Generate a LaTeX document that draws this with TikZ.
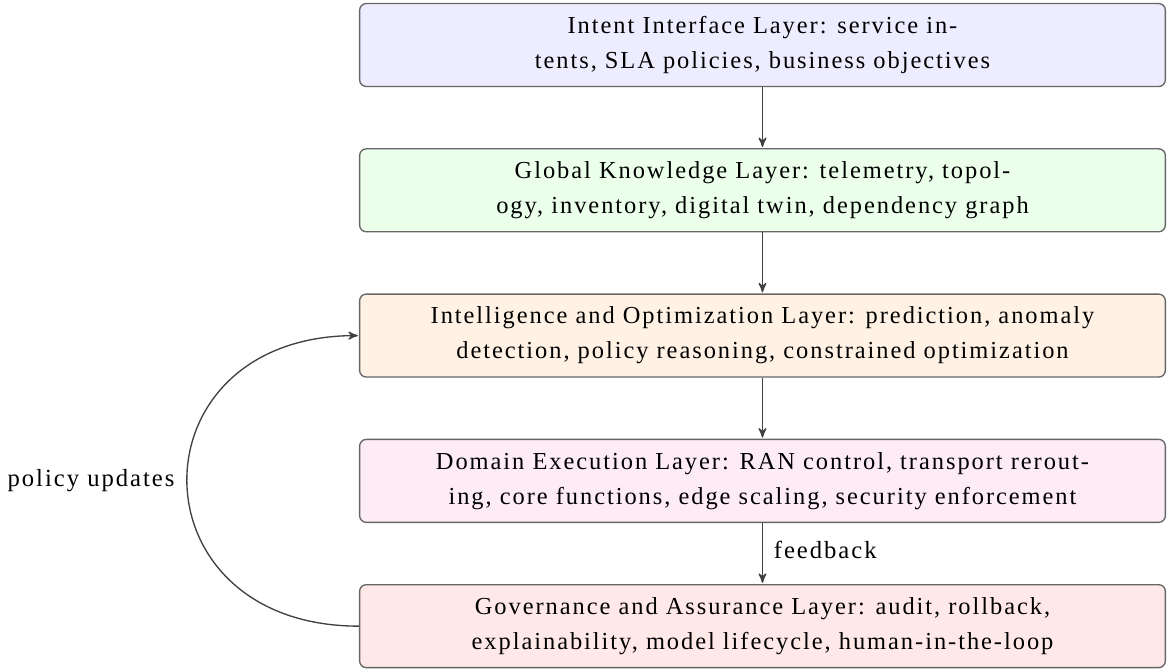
\documentclass[tikz,border=0pt]{standalone}
\usepackage{fontspec}
\setmainfont{Liberation Serif}[LetterSpace=8]
\usetikzlibrary{arrows,positioning}

\begin{document}
\begin{tikzpicture}[->,>=stealth',shorten >=0.5pt,node distance=27.45pt,
                    semithick,color=black!75]
  \tikzstyle{layer}=[draw=black!60,rounded corners=3pt,text=black,
                     minimum width=362.7pt,minimum height=37.35pt,align=center,
                     font=\fontsize{11}{15.75}\selectfont]
  \tikzstyle{lbl}=[text=black,font=\fontsize{11.1}{14}\selectfont]

  \node[layer,fill=blue!7]      (intent)                  {Intent Interface Layer: service in-\\tents, SLA policies, business objectives};
  \node[layer,fill=green!8]     (knowledge) [below=of intent]    {Global Knowledge Layer: telemetry, topol-\\ogy, inventory, digital twin, dependency graph};
  \node[layer,fill=orange!10]   (intel)     [below=of knowledge] {Intelligence and Optimization Layer: prediction, anomaly\\detection, policy reasoning, constrained optimization};
  \node[layer,fill=magenta!8]   (exec)      [below=of intel]     {Domain Execution Layer: RAN control, transport rerout-\\ing, core functions, edge scaling, security enforcement};
  \node[layer,fill=red!9]       (gov)       [below=of exec]      {Governance and Assurance Layer: audit, rollback,\\explainability, model lifecycle, human-in-the-loop};

  \useasboundingbox ([xshift=-161.6pt,yshift=1.3pt]intent.north west)
                    rectangle ([xshift=2.25pt,yshift=-1pt]gov.south east);

  \path (intent)    edge (knowledge)
        (knowledge) edge (intel)
        (intel)     edge (exec)
        (exec)      edge node[right,lbl,xshift=1.5pt,yshift=1.5pt] {feedback} (gov);

  \draw (gov.west) to[out=180,in=180,looseness=2.02]
        node[left,lbl,inner sep=5.5pt] {policy updates} (intel.west);

\end{tikzpicture}
\end{document}
